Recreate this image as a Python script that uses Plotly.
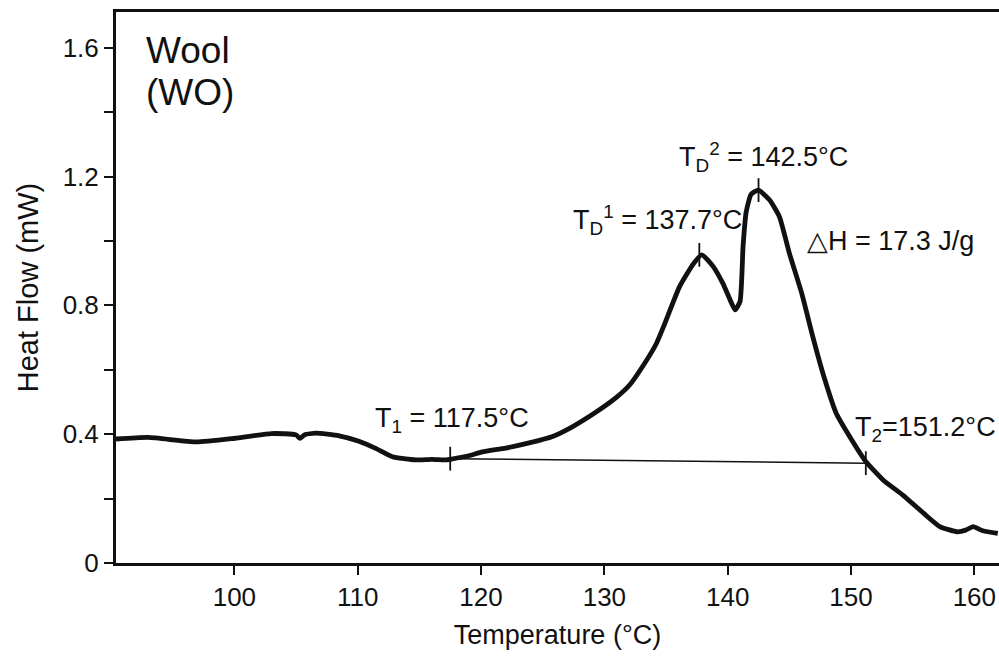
import plotly.graph_objects as go

# DSC trace of wool: temperature (°C) vs heat flow (mW)
temperature = [90.4, 93.0, 96.9, 99.8, 103.0, 105.0, 105.3, 105.7, 106.6, 108.5,
               110.1, 111.5, 112.8, 114.7, 116.0, 117.2, 117.5, 119.0, 120.1, 122.0,
               123.9, 125.8, 127.4, 129.3, 131.0, 132.1, 133.1, 134.2, 134.8, 136.1,
               137.2, 137.9, 138.8, 139.6, 140.2, 140.6, 141.0, 141.25, 141.5, 141.9,
               142.5, 143.4, 144.2, 145.0, 146.0, 146.9, 147.8, 148.8, 149.9, 151.2,
               152.6, 154.2, 155.9, 157.2, 158.6, 159.3, 159.9, 160.7, 161.9]
heat_flow = [0.385, 0.390, 0.376, 0.386, 0.402, 0.398, 0.387, 0.398, 0.403, 0.395,
             0.378, 0.355, 0.330, 0.320, 0.322, 0.320, 0.322, 0.333, 0.345, 0.357,
             0.373, 0.393, 0.423, 0.468, 0.515, 0.555, 0.610, 0.680, 0.734, 0.858,
             0.928, 0.957, 0.922, 0.869, 0.817, 0.786, 0.812, 0.985, 1.090, 1.145,
             1.158, 1.127, 1.075, 0.962, 0.838, 0.703, 0.579, 0.465, 0.392, 0.315,
             0.258, 0.211, 0.154, 0.113, 0.097, 0.102, 0.113, 0.100, 0.092]

# characteristic temperatures and the heat flow at each
onset_end = [117.5, 151.2]          # T1, T2
onset_end_flow = [0.324, 0.310]
peaks = [137.7, 142.5]              # TD1, TD2
peak_flow = [0.957, 1.158]

x_ticks = [100, 110, 120, 130, 140, 150, 160]
y_ticks = [0, 0.4, 0.8, 1.2, 1.6]
y_tick_text = ["0", "0.4", "0.8", "1.2", "1.6"]

FONT = "Liberation Sans, Arial, sans-serif"
INK = "#111111"

fig = go.Figure()

# thermogram
fig.add_trace(go.Scatter(
    x=temperature, y=heat_flow, mode="lines",
    line=dict(color=INK, width=4.8, shape="spline", smoothing=0.5),
    hoverinfo="skip", showlegend=False))

# integration baseline between T1 and T2
fig.add_trace(go.Scatter(
    x=onset_end, y=onset_end_flow, mode="lines",
    line=dict(color=INK, width=1.5), hoverinfo="skip", showlegend=False))

# short vertical marks at the characteristic temperatures
half = 0.037
mx, my = [], []
for t, f in zip(onset_end + peaks, onset_end_flow + peak_flow):
    mx += [t, t, None]
    my += [f - half, f + half, None]
fig.add_trace(go.Scatter(
    x=mx, y=my, mode="lines", line=dict(color=INK, width=1.8),
    hoverinfo="skip", showlegend=False))

labels = [
    (111.2, 0.445, "T<sub>1</sub> = 117.5°C"),
    (127.3, 1.065, "T<sub>D</sub><sup>1</sup> = 137.7°C"),
    (135.9, 1.262, "T<sub>D</sub><sup>2</sup> = 142.5°C"),
    (146.3, 1.000, "△H = 17.3 J/g"),
    (150.2, 0.415, "T<sub>2</sub>=151.2°C"),
]
for x, y, txt in labels:
    fig.add_annotation(x=x, y=y, text=txt, showarrow=False, xanchor="left",
                       yanchor="middle", font=dict(family=FONT, size=27, color=INK))

# sample name, two lines
for y, txt in [(1.59, "Wool"), (1.46, "(WO)")]:
    fig.add_annotation(x=92.7, y=y, text=txt, showarrow=False, xanchor="left",
                       yanchor="middle", font=dict(family=FONT, size=37, color=INK))

fig.update_xaxes(
    range=[90.4, 162.0], tickvals=x_ticks, ticks="outside", ticklen=9,
    tickwidth=2, tickcolor=INK, showline=True, linewidth=3, linecolor=INK,
    mirror=True, showgrid=False, zeroline=False,
    tickfont=dict(family=FONT, size=26, color=INK),
    title=dict(text="Temperature (°C)", standoff=14,
               font=dict(family=FONT, size=27, color=INK)))
fig.update_yaxes(
    range=[0, 1.711], tickvals=y_ticks, ticktext=y_tick_text, ticks="outside",
    ticklen=9, tickwidth=2, tickcolor=INK, showline=True, linewidth=3,
    linecolor=INK, showgrid=False, zeroline=False,
    minor=dict(dtick=0.2, tick0=0, ticks="outside", ticklen=9, tickwidth=2,
               tickcolor=INK, showgrid=False),
    tickfont=dict(family=FONT, size=26, color=INK),
    title=dict(text="Heat Flow (mW)", standoff=16,
               font=dict(family=FONT, size=29, color=INK)))

fig.update_layout(
    width=999, height=666, margin=dict(l=116, r=0, t=12, b=103),
    paper_bgcolor="white", plot_bgcolor="white")

fig.write_html("out.html")
